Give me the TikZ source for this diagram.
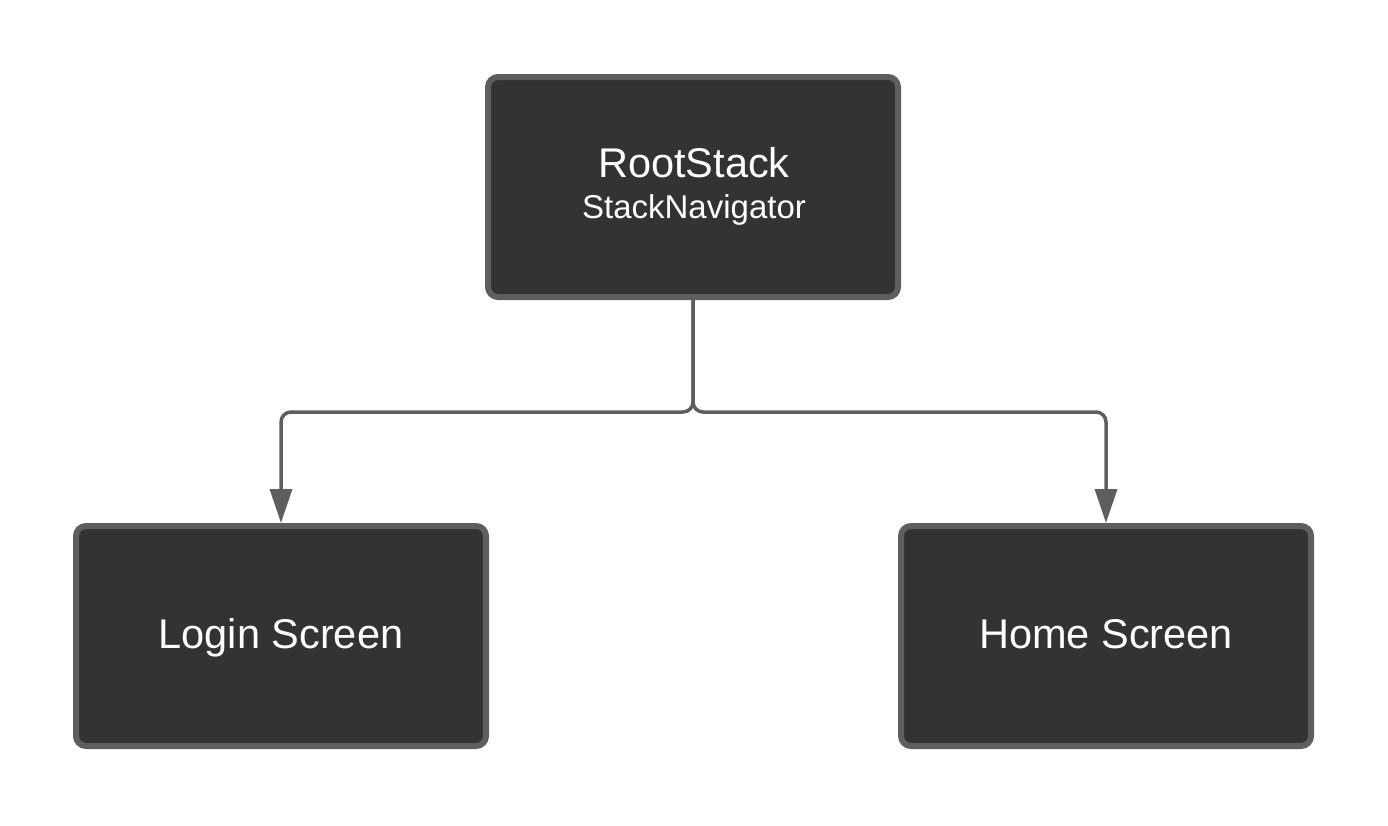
\documentclass[tikz,border=0pt]{standalone}
\usepackage{fontspec}
\setmainfont{Liberation Sans}
\usetikzlibrary{arrows.meta}
\definecolor{boxfill}{HTML}{333333}
\definecolor{boxline}{HTML}{5E5E5E}
\begin{document}
\begin{tikzpicture}[x=1pt,y=-1pt,
  screenbox/.style={draw=boxline, fill=boxfill, line width=6pt, rounded corners=10pt,
    minimum width=410pt, minimum height=220pt, inner sep=0pt},
  bigtext/.style={text=white, inner sep=0pt, anchor=base, font=\fontsize{41.5}{48}\selectfont},
  smalltext/.style={text=white, inner sep=0pt, anchor=base, font=\fontsize{33}{38}\selectfont},
  conn/.style={draw=boxline, line width=3.5pt, rounded corners=10pt,
    -{Triangle[length=34pt,width=22pt]}}]
\useasboundingbox (0,0) rectangle (1388,825);
\node[screenbox] (root) at (693,187) {};
\node[screenbox] (login) at (281,636) {};
\node[screenbox] (home) at (1106,636) {};
\node[bigtext] (roottitle) at (694,177) {RootStack};
\node[smalltext] (rootsub) at (694,218) {StackNavigator};
\node[bigtext] (logintext) at (281,648) {Login Screen};
\node[bigtext] (hometext) at (1106,648) {Home Screen};
\draw[conn] (root.south) -- ++(0,112) -| (login.north);
\draw[conn] (root.south) -- ++(0,112) -| (home.north);
\end{tikzpicture}
\end{document}
